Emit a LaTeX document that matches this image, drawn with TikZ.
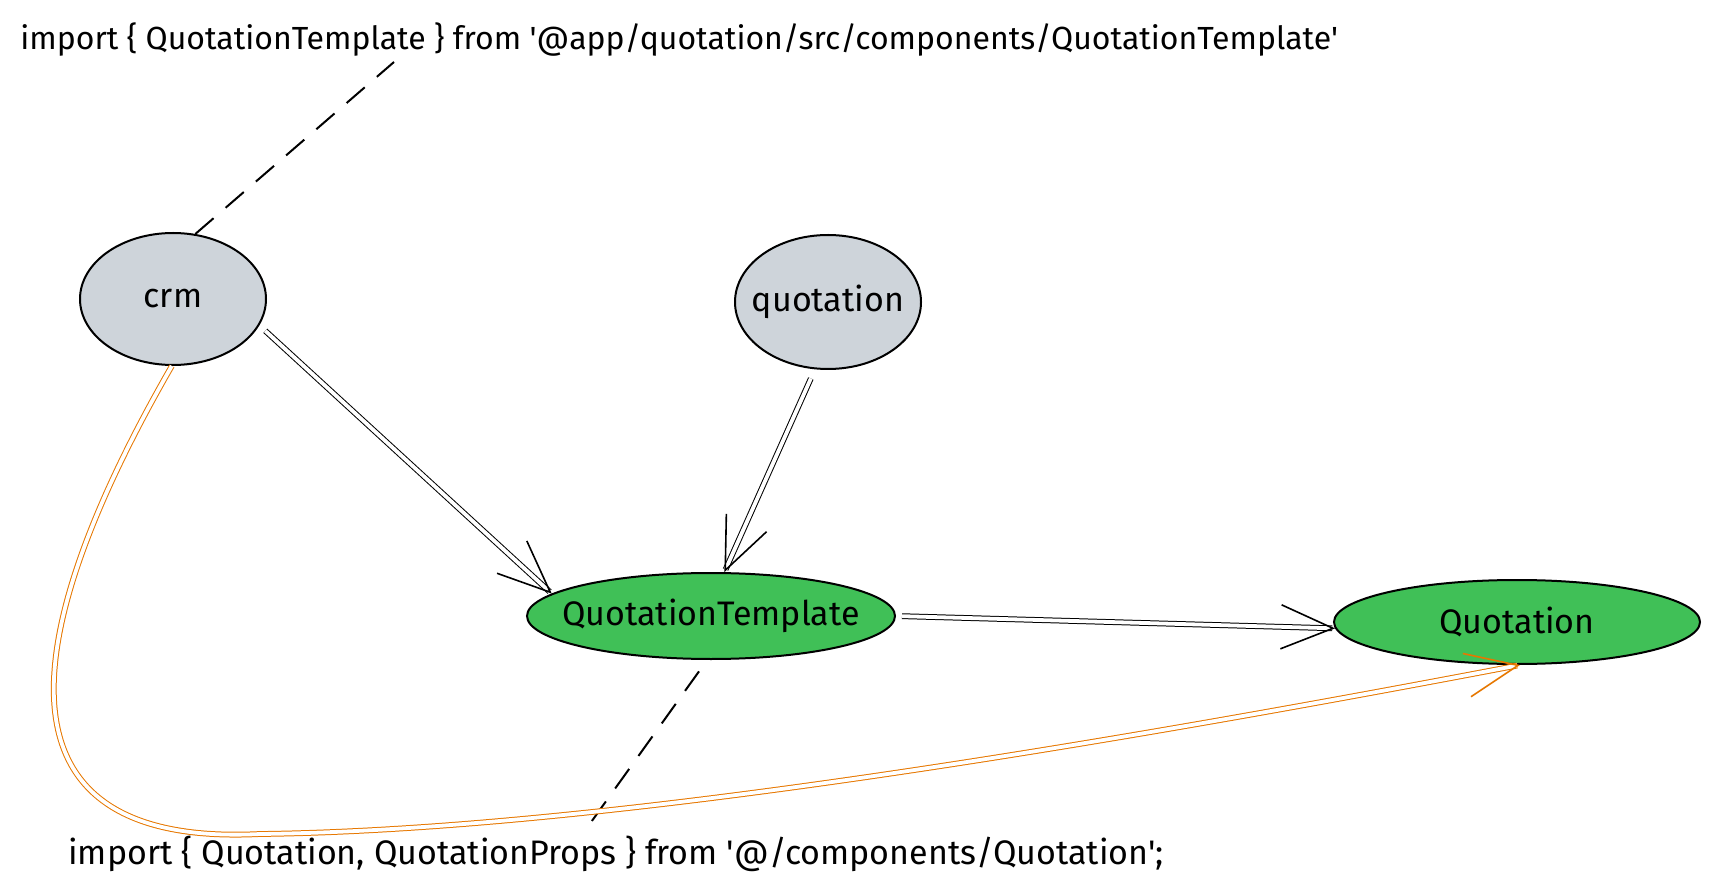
\documentclass[tikz,border=0pt]{standalone}
\usepackage{fontspec}
\setmainfont{Fira Sans}
\usetikzlibrary{shapes.geometric,arrows.meta,calc}
\definecolor{nodegray}{HTML}{CED4DA}
\definecolor{nodegreen}{HTML}{40C057}
\definecolor{arrorange}{HTML}{E67700}
\newcommand{\nolabelwidth}[1]{\makebox[0pt]{#1}}
\begin{document}
\begin{tikzpicture}[x=0.5pt,y=-0.5pt,
  hand/.style={font=\fontsize{16}{19}\selectfont},
  handbig/.style={font=\fontsize{17}{20}\selectfont},
  pkg/.style={ellipse, draw=black, line width=1pt, inner sep=0pt, handbig},
  graynode/.style={pkg, fill=nodegray},
  greennode/.style={pkg, fill=nodegreen},
  dbl/.style={double, double distance=1.9pt, line width=0.5pt},
  arrowtip/.style={-{Straight Barb[length=26pt,width=22pt,line width=0.8pt]}},
  dashline/.style={dash pattern=on 12pt off 8pt, line width=1pt}]
\useasboundingbox (0,0) rectangle (1717,892);
\node[graynode, minimum width=93pt, minimum height=66pt] (crm) at (173,299) {\nolabelwidth{crm}};
\node[graynode, minimum width=93pt, minimum height=67pt] (quot) at (828,302) {\nolabelwidth{quotation}};
\node[greennode, minimum width=184pt, minimum height=43pt] (tmpl) at (711,616) {\nolabelwidth{QuotationTemplate}};
\node[greennode, minimum width=183pt, minimum height=42pt] (Quot) at (1517,622) {\nolabelwidth{Quotation}};
\node[hand, anchor=west, inner sep=0pt] (t1) at (20,40) {import \{ QuotationTemplate \} from \textquotesingle @app/quotation/src/components/QuotationTemplate\textquotesingle};
\node[handbig, anchor=west, inner sep=0pt] (t2) at (68,854) {import \{ Quotation, QuotationProps \} from \textquotesingle @/components/Quotation\textquotesingle;};
\coordinate (d1) at (394,62);
\coordinate (d2) at (589,825);
\draw[dashline] (crm.71) -- (d1);
\draw[dashline, shorten <=7pt] (tmpl.-95) -- (d2);
\draw[dbl, arrowtip, shorten <=4pt] (crm.-17) -- (tmpl.172);
\draw[dbl, arrowtip, shorten <=5pt] (quot.-101) -- (tmpl.73);
\draw[dbl, arrowtip, shorten <=3pt] (tmpl.0) -- (Quot.182);
\draw[dbl, draw=arrorange, arrowtip] (crm.-91) .. controls (60,560) and (-60,850) .. (260,834) .. controls (600,830) and (1100,745) .. (Quot.-86);
\end{tikzpicture}
\end{document}
